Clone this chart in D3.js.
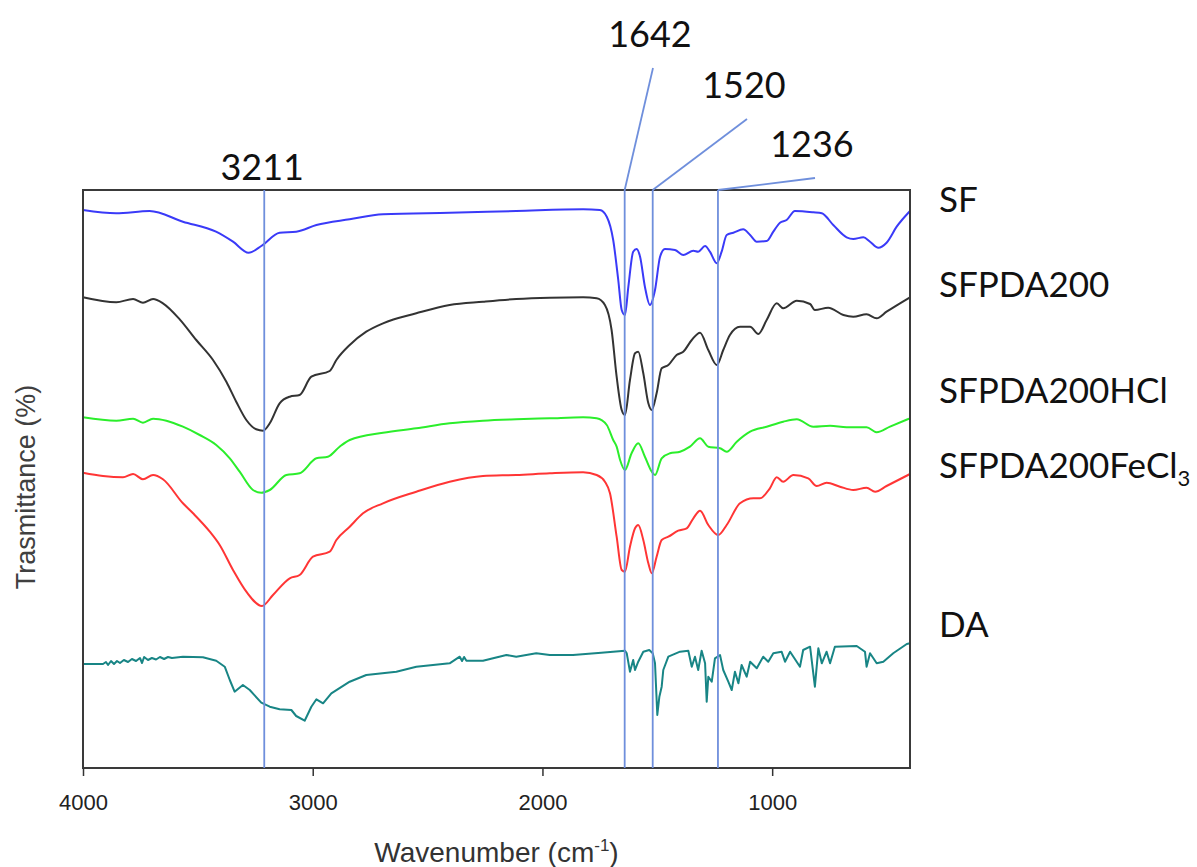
<!DOCTYPE html>
<html><head><meta charset="utf-8">
<script src="https://cdn.jsdelivr.net/npm/d3@7"></script>
<style>body{margin:0;background:#fff} svg{display:block}</style>
</head><body>
<svg id="chart" width="1197" height="867"></svg>
<script>
// ---------------- data ----------------
const wavenumberTicks = [4000, 3000, 2000, 1000];
const seriesNames = ["SF", "SFPDA200", "SFPDA200HCl", "SFPDA200FeCl3", "DA"];
const peakPositions = [3211, 1642, 1520, 1236];

// [wavenumber (cm-1), transmittance (stacked, arbitrary units)]
const sf = [[4000,55.8],[3856,55.47],[3710,55.7],[3565,54.63],[3421,53.63],[3347,52.63],[3279,51.53],[3224,52.2],[3144,53.53],[3072,53.63],[2984,54.3],[2839,54.87],[2694,55.37],[2404,55.53],[2114,55.7],[1823,55.87],[1750,55.8],[1720,55.13],[1692,52.8],[1670,48.8],[1655,45.8],[1641,45.3],[1626,48.13],[1605,51.63],[1590,51.9],[1575,51.13],[1554,48.13],[1532,46.3],[1510,47.8],[1488,51.13],[1467,51.9],[1423,51.8],[1387,51.3],[1343,51.73],[1322,51.63],[1292,52.2],[1271,51.63],[1241,50.47],[1220,51.63],[1198,53.3],[1169,53.53],[1126,53.87],[1096,53.3],[1067,52.63],[1024,52.7],[995,53.63],[966,54.53],[937,54.8],[901,55.7],[821,55.57],[784,55.47],[734,54.3],[676,53.07],[647,52.9],[603,53.07],[574,52.63],[538,52.03],[502,52.53],[458,54.13],[400,55.7]];

const sfpda200 = [[4000,47.07],[3855,46.57],[3782,46.9],[3739,46.53],[3695,46.9],[3652,46.47],[3579,44.87],[3507,42.8],[3434,40.8],[3376,38.63],[3333,36.63],[3289,34.8],[3246,33.87],[3216,33.73],[3187,34.47],[3144,36.47],[3100,37.13],[3057,37.3],[3006,39.13],[2926,39.7],[2897,40.8],[2839,42.3],[2767,43.63],[2694,44.47],[2549,45.47],[2404,46.3],[2259,46.63],[2114,46.9],[1968,47.03],[1823,47.07],[1764,46.97],[1728,46.3],[1699,43.8],[1677,39.13],[1655,35.8],[1641,35.3],[1619,38.8],[1597,41.47],[1583,41.63],[1561,39.47],[1539,36.47],[1524,35.8],[1503,37.47],[1481,39.97],[1452,40.3],[1416,41.3],[1387,41.63],[1350,42.8],[1314,43.53],[1278,41.8],[1241,40.3],[1213,41.8],[1184,43.3],[1140,44.13],[1096,44.13],[1060,43.4],[1024,44.8],[980,46.47],[952,45.97],[893,46.73],[835,46.4],[814,45.8],[756,46.03],[690,45.3],[647,45.13],[589,45.37],[545,44.97],[502,45.63],[400,47.07]];

const sfpda200hcl = [[4000,35.07],[3855,34.73],[3782,34.93],[3739,34.53],[3695,34.93],[3637,34.73],[3565,34.13],[3492,33.3],[3420,32.3],[3361,30.97],[3318,29.63],[3260,27.8],[3224,27.53],[3187,27.8],[3115,29.3],[3057,29.47],[2984,30.97],[2934,31.13],[2883,32.13],[2839,32.8],[2694,33.53],[2549,33.97],[2404,34.47],[2259,34.73],[2114,34.87],[1968,34.97],[1823,35.07],[1764,34.97],[1720,34.3],[1692,32.8],[1677,32.13],[1662,30.8],[1641,29.8],[1612,31.47],[1583,32.47],[1554,31.13],[1524,29.63],[1510,29.3],[1481,30.97],[1445,31.47],[1401,31.63],[1358,32.13],[1314,32.97],[1278,32.13],[1227,31.97],[1198,31.63],[1154,32.63],[1096,33.63],[1024,34.13],[952,34.63],[893,34.87],[821,34.13],[748,34.23],[676,34.07],[589,34.07],[545,33.57],[487,34.13],[400,34.97]];

const sfpda200fecl3 = [[4000,29.53],[3913,29.2],[3826,29.07],[3782,29.4],[3739,28.87],[3695,29.3],[3652,28.87],[3565,26.47],[3521,25.47],[3448,23.63],[3405,22.3],[3347,19.8],[3289,17.63],[3221,16.2],[3173,17.3],[3100,18.97],[3057,19.3],[2999,21.13],[2926,21.63],[2897,22.8],[2839,24.13],[2781,25.47],[2694,26.47],[2549,27.63],[2404,28.63],[2259,29.2],[2114,29.3],[1968,29.47],[1823,29.57],[1764,29.3],[1728,28.63],[1706,27.47],[1677,23.13],[1655,19.8],[1641,19.63],[1619,22.13],[1597,23.97],[1583,24.3],[1561,22.8],[1539,20.47],[1524,19.47],[1503,21.13],[1481,22.8],[1452,23.13],[1409,23.73],[1372,23.97],[1343,24.97],[1314,25.73],[1278,24.3],[1235,23.3],[1198,24.3],[1140,26.47],[1082,26.97],[1053,26.97],[1010,27.97],[980,29.07],[952,28.63],[908,29.3],[843,28.97],[806,28.2],[763,28.53],[705,28.13],[647,27.8],[589,28.03],[552,27.63],[502,28.2],[400,29.4]];

const da = [[4000,10.4],[3913,10.4],[3900,10.6],[3891,10.3],[3878,10.7],[3865,10.4],[3852,10.7],[3839,10.5],[3822,10.8],[3804,10.6],[3787,10.9],[3769,10.7],[3752,11.0],[3743,10.5],[3734,11.1],[3717,10.8],[3700,11.0],[3682,10.85],[3665,11.1],[3647,10.9],[3630,11.1],[3613,11.0],[3565,11.13],[3478,11.07],[3420,10.73],[3383,10.13],[3361,8.8],[3340,7.63],[3304,8.3],[3274,7.8],[3224,6.53],[3187,6.13],[3144,5.87],[3093,5.8],[3072,5.2],[3035,4.73],[3006,6.13],[2984,6.87],[2955,6.47],[2919,7.47],[2839,8.63],[2767,9.3],[2636,9.63],[2549,10.13],[2404,10.47],[2360,11.13],[2350,10.7],[2341,11.1],[2331,10.73],[2259,10.73],[2157,11.3],[2114,11.13],[2027,11.47],[1968,11.3],[1867,11.3],[1744,11.53],[1641,11.73],[1633,11.47],[1619,9.63],[1605,10.8],[1597,9.8],[1583,10.63],[1561,11.63],[1535,11.8],[1520,11.47],[1510,10.47],[1500,5.3],[1491,7.13],[1481,8.13],[1474,9.8],[1452,11.13],[1401,11.63],[1365,11.73],[1350,10.13],[1336,11.13],[1322,9.8],[1307,11.73],[1292,10.47],[1285,6.63],[1278,9.13],[1263,8.63],[1249,10.97],[1227,11.3],[1213,9.8],[1191,8.63],[1176,7.8],[1162,9.63],[1147,8.47],[1133,10.3],[1111,9.13],[1096,10.63],[1067,9.97],[1039,11.13],[1017,10.63],[995,11.47],[959,11.63],[944,10.63],[922,11.63],[879,10.13],[865,11.8],[835,12.13],[814,8.13],[799,11.97],[784,10.47],[763,11.63],[748,10.47],[727,12.13],[632,12.2],[596,11.63],[589,10.13],[574,11.47],[545,10.47],[516,10.63],[473,11.47],[414,12.4],[400,12.47]];

const seriesData = [sf, sfpda200, sfpda200hcl, sfpda200fecl3, da];
const seriesColors = ["#3a3af8", "#333333", "#2bee2b", "#ff3535", "#188585"];

// ---------------- layout ----------------
const plot = {left: 83, right: 910, top: 190, bottom: 768};
const svg = d3.select("#chart");

const x = d3.scaleLinear().domain([4000, 400]).range([plot.left, plot.right]);
const y = d3.scaleLinear().domain([0, 57.8]).range([plot.bottom, plot.top]);

const smoothLine = d3.line().x(d => x(d[0])).y(d => y(d[1])).curve(d3.curveMonotoneX);
const rawLine = d3.line().x(d => x(d[0])).y(d => y(d[1]));

// curves
svg.append("g").selectAll("path")
  .data(seriesData)
  .join("path")
  .attr("d", (d, i) => i === 4 ? rawLine(d) : smoothLine(d))
  .attr("fill", "none")
  .attr("stroke", (d, i) => seriesColors[i])
  .attr("stroke-width", 2)
  .attr("stroke-linejoin", "round");

// frame
svg.append("rect")
  .attr("x", plot.left).attr("y", plot.top)
  .attr("width", plot.right - plot.left).attr("height", plot.bottom - plot.top)
  .attr("fill", "none").attr("stroke", "#3a3a3a").attr("stroke-width", 2);

// x axis
const xAxis = d3.axisBottom(x).tickValues(wavenumberTicks).tickSize(8).tickSizeOuter(0).tickFormat(d3.format("d"));
const gx = svg.append("g").attr("transform", `translate(0,${plot.bottom})`).call(xAxis);
gx.select(".domain").remove();
gx.selectAll(".tick line").attr("stroke", "#333").attr("stroke-width", 1.5);
gx.selectAll(".tick text")
  .attr("font-family", "'Liberation Sans', Arial, sans-serif")
  .attr("font-size", 22).attr("fill", "#222").attr("dy", null).attr("y", 42);

// axis titles
const xt = svg.append("text")
  .attr("x", (plot.left + plot.right) / 2).attr("y", 862)
  .attr("text-anchor", "middle")
  .attr("font-family", "'Liberation Sans', Arial, sans-serif")
  .attr("font-size", 28).attr("fill", "#333");
xt.append("tspan").text("Wavenumber (cm");
xt.append("tspan").text("-1").attr("font-size", 17).attr("dy", -11);
xt.append("tspan").text(")").attr("dy", 11);

svg.append("text")
  .attr("transform", `translate(35,${(plot.top + plot.bottom) / 2 + 8}) rotate(-90)`)
  .attr("text-anchor", "middle")
  .attr("font-family", "'Liberation Sans', Arial, sans-serif")
  .attr("font-size", 27).attr("fill", "#404040")
  .text("Trasmittance (%)");

// peak marker lines + labels
const peakColor = "#6f8fdc";
const labelFont = "Lato, 'Open Sans', sans-serif";
// label anchor positions (layout): [labelCenterX, baselineY]
const peakLabelPos = [[null, 180], [650, 47], [744, 98], [812, 157]];

svg.append("g").selectAll("line")
  .data(peakPositions)
  .join("line")
  .attr("x1", d => x(d)).attr("x2", d => x(d))
  .attr("y1", plot.top).attr("y2", plot.bottom)
  .attr("stroke", peakColor).attr("stroke-width", 1.8);

peakPositions.forEach((p, i) => {
  const [lx, by] = peakLabelPos[i];
  const cx = lx === null ? x(p) - 2 : lx;
  if (lx !== null) {
    svg.append("line")
      .attr("x1", x(p)).attr("y1", plot.top)
      .attr("x2", cx + 3).attr("y2", by + 21)
      .attr("stroke", peakColor).attr("stroke-width", 1.8);
  }
  svg.append("text")
    .attr("x", cx).attr("y", by)
    .attr("text-anchor", "middle")
    .attr("font-family", labelFont)
    .attr("font-size", 36).attr("fill", "#111")
    .text(p);
});

// series labels on the right
const seriesLabelY = [211.5, 296.7, 403, 478, 636.7];
seriesNames.forEach((n, i) => {
  const t = svg.append("text")
    .attr("x", 939).attr("y", seriesLabelY[i])
    .attr("font-family", labelFont)
    .attr("font-size", 35).attr("fill", "#111");
  if (n === "SFPDA200FeCl3") {
    t.append("tspan").text("SFPDA200FeCl");
    t.append("tspan").text("3").attr("font-size", 22).attr("dy", 8);
  } else {
    t.text(n);
  }
});
</script>
</body></html>
